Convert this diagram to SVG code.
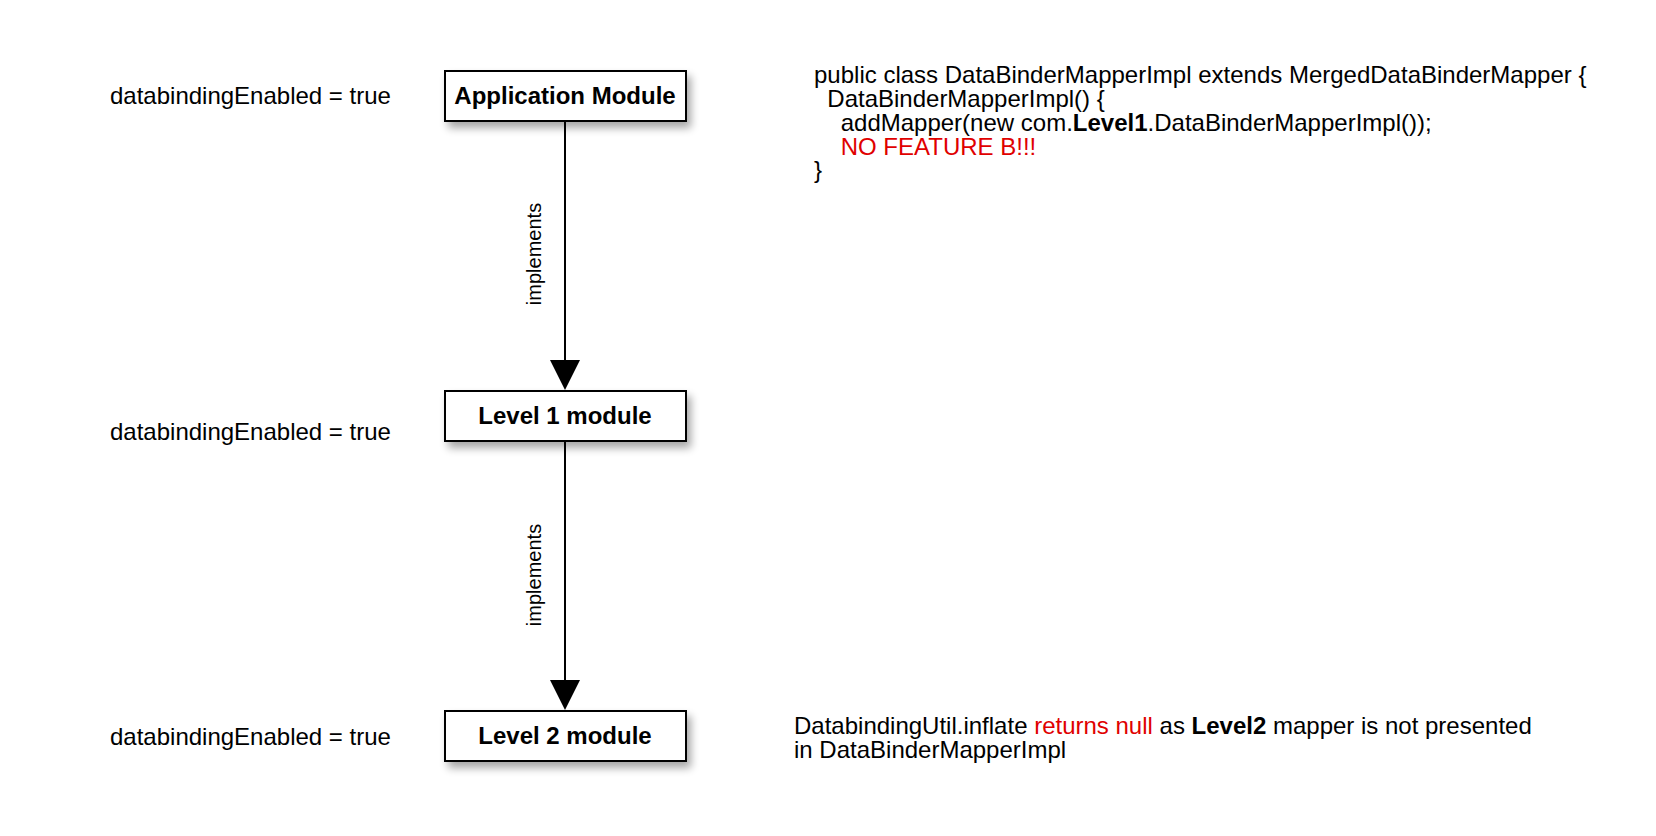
<svg xmlns="http://www.w3.org/2000/svg" width="1656" height="836" viewBox="0 0 1656 836">
<style>
.box{fill:#fff;stroke:#000;stroke-width:2}
.nt{font-family:"Liberation Sans",Arial,sans-serif;font-size:24px;font-weight:bold;text-anchor:middle;fill:#000}
.t{font-family:"Liberation Sans",Arial,sans-serif;font-size:24px;fill:#000}
.lbl{font-family:"Liberation Sans",Arial,sans-serif;font-size:20px;text-anchor:middle;fill:#000}
.red{fill:#e00000}
.edge{stroke:#000;stroke-width:2;fill:none}
</style>
<defs>
<filter id="sh" x="-10%" y="-30%" width="130%" height="200%">
<feGaussianBlur in="SourceAlpha" stdDeviation="4"/>
<feOffset dx="4" dy="6" result="b"/>
<feComponentTransfer><feFuncA type="linear" slope="0.35"/></feComponentTransfer>
<feMerge><feMergeNode/><feMergeNode in="SourceGraphic"/></feMerge>
</filter>
</defs>
<rect width="1656" height="836" fill="#fff"/>
<g id="connectors">
<line class="edge" x1="565" y1="121" x2="565" y2="362"/>
<polygon points="550,360 580,360 565,390" fill="#000"/>
<text class="lbl" transform="translate(541,254) rotate(-90)">implements</text>
<line class="edge" x1="565" y1="441" x2="565" y2="682"/>
<polygon points="550,680 580,680 565,710" fill="#000"/>
<text class="lbl" transform="translate(541,575) rotate(-90)">implements</text>
</g>
<g id="app-module">
<rect class="box" x="445" y="71" width="241" height="50" filter="url(#sh)"/>
<text class="nt" x="565" y="104">Application Module</text>
</g>
<g id="level1-module">
<rect class="box" x="445" y="391" width="241" height="50" filter="url(#sh)"/>
<text class="nt" x="565" y="424">Level 1 module</text>
</g>
<g id="level2-module">
<rect class="box" x="445" y="711" width="241" height="50" filter="url(#sh)"/>
<text class="nt" x="565" y="744">Level 2 module</text>
</g>
<g id="labels-left">
<text class="t" x="110" y="104">databindingEnabled = true</text>
<text class="t" x="110" y="440">databindingEnabled = true</text>
<text class="t" x="110" y="745">databindingEnabled = true</text>
</g>
<g id="code-note">
<text class="t" x="814" y="83">public class DataBinderMapperImpl extends MergedDataBinderMapper {</text>
<text class="t" x="827.3" y="107">DataBinderMapperImpl() {</text>
<text class="t" x="840.7" y="130.8">addMapper(new com.<tspan font-weight="bold">Level1</tspan>.DataBinderMapperImpl());</text>
<text class="t red" x="840.7" y="154.6">NO FEATURE B!!!</text>
<text class="t" x="814" y="178.4">}</text>
</g>
<g id="result-note">
<text class="t" x="794" y="734">DatabindingUtil.inflate <tspan class="red">returns null</tspan> as <tspan font-weight="bold">Level2</tspan> mapper is not presented</text>
<text class="t" x="794" y="758">in DataBinderMapperImpl</text>
</g>
</svg>
